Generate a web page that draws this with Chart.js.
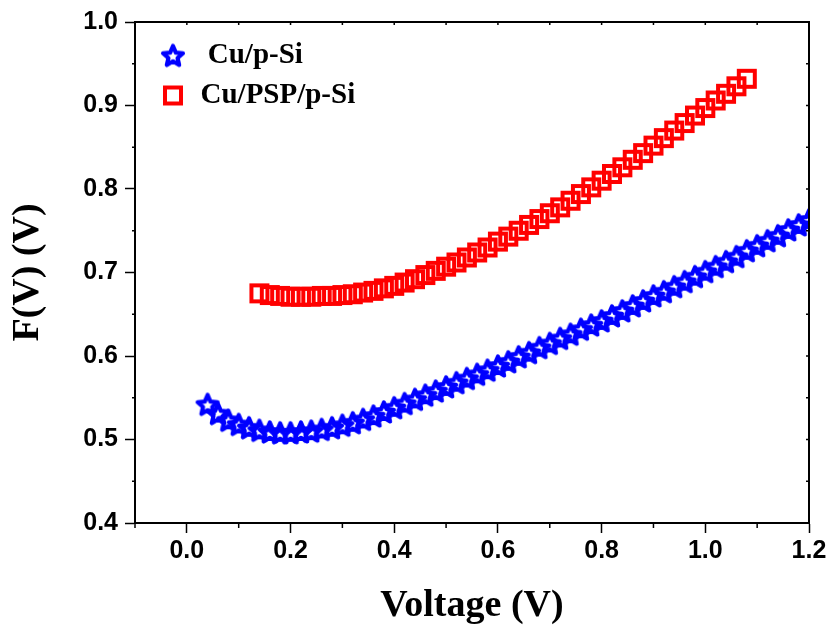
<!DOCTYPE html>
<html>
<head>
<meta charset="utf-8">
<script src="https://cdn.jsdelivr.net/npm/chart.js@4/dist/chart.umd.min.js"></script>
<style>
  html, body { margin: 0; padding: 0; background: #fff; }
  #wrap { width: 832px; height: 632px; }
</style>
</head>
<body>
<div id="wrap"><canvas id="fvChart" width="832" height="632"></canvas></div>
<script>
// Cu/p-Si (blue stars)
const voltsCuSi = [0.04, 0.06, 0.08, 0.10, 0.12, 0.14, 0.16, 0.18, 0.20, 0.22, 0.24, 0.26, 0.28, 0.30,
    0.32, 0.34, 0.36, 0.38, 0.40, 0.42, 0.44, 0.46, 0.48, 0.50, 0.52, 0.54, 0.56, 0.58, 0.60,
    0.62, 0.64, 0.66, 0.68, 0.70, 0.72, 0.74, 0.76, 0.78, 0.80, 0.82, 0.84, 0.86, 0.88, 0.90,
    0.92, 0.94, 0.96, 0.98, 1.00, 1.02, 1.04, 1.06, 1.08, 1.10, 1.12, 1.14, 1.16, 1.18, 1.20];
const fCuSi = [0.542, 0.531, 0.523, 0.518, 0.514, 0.511, 0.509, 0.508, 0.508, 0.509, 0.510, 0.512, 0.514, 0.517,
    0.520, 0.524, 0.528, 0.533, 0.538, 0.543, 0.548, 0.553, 0.558, 0.563, 0.568, 0.573, 0.578, 0.583, 0.588,
    0.593, 0.599, 0.604, 0.610, 0.615, 0.621, 0.626, 0.632, 0.637, 0.642, 0.648, 0.654, 0.660, 0.666, 0.672,
    0.677, 0.683, 0.689, 0.695, 0.701, 0.707, 0.713, 0.719, 0.726, 0.732, 0.738, 0.744, 0.751, 0.757, 0.763];

// Cu/PSP/p-Si (red squares)
const voltsCuPsp = [0.14, 0.16, 0.18, 0.20, 0.22, 0.24, 0.26, 0.28, 0.30, 0.32, 0.34, 0.36, 0.38, 0.40,
    0.42, 0.44, 0.46, 0.48, 0.50, 0.52, 0.54, 0.56, 0.58, 0.60, 0.62, 0.64, 0.66, 0.68, 0.70,
    0.72, 0.74, 0.76, 0.78, 0.80, 0.82, 0.84, 0.86, 0.88, 0.90, 0.92, 0.94, 0.96, 0.98, 1.00,
    1.02, 1.04, 1.06, 1.08];
const fCuPsp = [0.675, 0.673, 0.672, 0.671, 0.671, 0.671, 0.672, 0.672, 0.673, 0.674, 0.676, 0.678, 0.681, 0.684,
    0.688, 0.692, 0.697, 0.702, 0.707, 0.712, 0.718, 0.724, 0.730, 0.737, 0.743, 0.750, 0.757, 0.764, 0.771,
    0.778, 0.786, 0.794, 0.802, 0.810, 0.818, 0.826, 0.835, 0.843, 0.852, 0.861, 0.870, 0.879, 0.888, 0.897,
    0.906, 0.914, 0.923, 0.932];

const xTicks = [0.0, 0.2, 0.4, 0.6, 0.8, 1.0, 1.2];
const xMinorTicks = [-0.1, 0.1, 0.3, 0.5, 0.7, 0.9, 1.1];
const yTicks = [0.4, 0.5, 0.6, 0.7, 0.8, 0.9, 1.0];
const yMinorTicks = [0.45, 0.55, 0.65, 0.75, 0.85, 0.95];

// open star / open square symbols
function makeStar(color, outer, inner, lw) {
    const size = Math.ceil(2 * outer + lw + 4);
    const c = document.createElement('canvas');
    c.width = c.height = size;
    const g = c.getContext('2d');
    g.translate(size / 2, size / 2 + 1);
    g.beginPath();
    for (let i = 0; i < 10; i++) {
        const r = i % 2 ? inner : outer;
        const a = -Math.PI / 2 + i * Math.PI / 5;
        g.lineTo(r * Math.cos(a), r * Math.sin(a));
    }
    g.closePath();
    g.strokeStyle = color;
    g.lineWidth = lw;
    g.lineJoin = 'round';
    g.stroke();
    return c;
}

function makeSquare(color, side, lw) {
    const size = Math.ceil(side + lw + 4);
    const c = document.createElement('canvas');
    c.width = c.height = size;
    const g = c.getContext('2d');
    g.strokeStyle = color;
    g.lineWidth = lw;
    g.strokeRect((size - side) / 2, (size - side) / 2, side, side);
    return c;
}

const starImg = makeStar('#0000ff', 10.5, 4.8, 4.2);
const squareImg = makeSquare('#ff0000', 16, 4);

const toPoints = (xs, ys) => xs.map((v, i) => ({ x: v, y: ys[i] }));

const frameTicks = {
    id: 'frameTicks',
    afterLayout(chart) {
        // move legend inside the plot, near the top-left corner
        const lg = chart.legend;
        lg.left = chart.chartArea.left + 14;
        lg.top = chart.chartArea.top + 8;
    },
    afterDraw(chart) {
        const { ctx, chartArea: a, scales: { x, y } } = chart;
        ctx.save();
        ctx.strokeStyle = '#000';
        ctx.lineWidth = 2;
        ctx.beginPath();
        ctx.moveTo(a.left, a.top);
        ctx.lineTo(a.right, a.top);
        ctx.lineTo(a.right, a.bottom);
        ctx.stroke();

        ctx.lineWidth = 1.5;
        ctx.beginPath();
        xMinorTicks.forEach(v => {
            const px = x.getPixelForValue(v);
            ctx.moveTo(px, a.bottom);
            ctx.lineTo(px, a.bottom + 5);
        });
        yMinorTicks.forEach(v => {
            const py = y.getPixelForValue(v);
            ctx.moveTo(a.left, py);
            ctx.lineTo(a.left - 3, py);
        });
        xTicks.concat(xMinorTicks).forEach(v => {
            const px = x.getPixelForValue(v);
            ctx.moveTo(px, a.top);
            ctx.lineTo(px, a.top + 3);
        });
        yTicks.concat(yMinorTicks).forEach(v => {
            const py = y.getPixelForValue(v);
            ctx.moveTo(a.right, py);
            ctx.lineTo(a.right - 3, py);
        });
        ctx.stroke();
        ctx.restore();
    }
};

const tickFont = { family: "'Liberation Sans', Arial, sans-serif", size: 25, weight: 'bold' };
const titleFont = { family: "'Liberation Serif', 'Times New Roman', serif", size: 38, weight: 'bold' };

new Chart(document.getElementById('fvChart').getContext('2d'), {
    type: 'scatter',
    data: {
        datasets: [{
            label: ' Cu/p-Si',
            data: toPoints(voltsCuSi, fCuSi),
            pointStyle: starImg,
            pointRadius: 10,
            borderColor: '#0000ff',
            backgroundColor: '#0000ff',
            clip: 0
        }, {
            label: 'Cu/PSP/p-Si',
            data: toPoints(voltsCuPsp, fCuPsp),
            pointStyle: squareImg,
            pointRadius: 10,
            borderColor: '#ff0000',
            backgroundColor: '#ff0000',
            clip: 0
        }]
    },
    options: {
        responsive: false,
        animation: false,
        layout: { padding: { top: 21, right: 23, left: 0, bottom: 0 } },
        scales: {
            x: {
                type: 'linear',
                min: -0.1,
                max: 1.2,
                afterBuildTicks: (scale) => { scale.ticks = xTicks.map(v => ({ value: v })); },
                afterFit: (scale) => { scale.height = 109; },
                grid: { drawOnChartArea: false, tickLength: 10, tickWidth: 1.5, tickColor: '#000' },
                border: { display: true, color: '#000', width: 2 },
                ticks: {
                    color: '#000',
                    font: tickFont,
                    padding: 3,
                    maxRotation: 0,
                    callback: (v) => Number(v).toFixed(1)
                },
                title: { display: true, text: 'Voltage (V)', color: '#000', font: titleFont, padding: { top: 0, bottom: 3 } }
            },
            y: {
                type: 'linear',
                min: 0.4,
                max: 1.0,
                afterBuildTicks: (scale) => { scale.ticks = yTicks.map(v => ({ value: v })); },
                afterFit: (scale) => { scale.width = 135; },
                grid: { drawOnChartArea: false, tickLength: 10, tickWidth: 1.5, tickColor: '#000' },
                border: { display: true, color: '#000', width: 2 },
                ticks: {
                    color: '#000',
                    font: tickFont,
                    padding: 7,
                    callback: (v) => Number(v).toFixed(1)
                },
                title: { display: true, text: 'F(V) (V)', color: '#000', font: titleFont, padding: { top: 5, bottom: 0 } }
            }
        },
        plugins: {
            legend: {
                position: 'chartArea',
                align: 'start',
                labels: {
                    usePointStyle: true,
                    boxWidth: 26,
                    padding: 11,
                    color: '#000',
                    font: { family: "'Liberation Serif', 'Times New Roman', serif", size: 29, weight: 'bold' }
                }
            },
            tooltip: { enabled: false }
        }
    },
    plugins: [frameTicks]
});
</script>
</body>
</html>
